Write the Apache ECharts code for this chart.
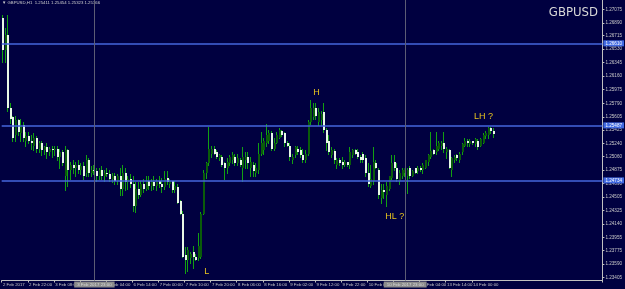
<!DOCTYPE html>
<html><head><meta charset="utf-8">
<script src="https://cdn.jsdelivr.net/npm/echarts@6/dist/echarts.min.js"></script>
<style>html,body{margin:0;padding:0;background:#000040}#c{width:625px;height:289px}</style>
</head><body><div id="c"></div>
<script>
// ---- data ----
const symbolTitle = "GBPUSD";
const headerText = "\u25BC GBPUSD,H1  1.25411 1.25454 1.25323 1.25366";
const timeTickLabels = ["2 Feb 2017","2 Feb 22:00","3 Feb 08:00","3 Feb 18:00","6 Feb 04:00","6 Feb 14:00","7 Feb 00:00","7 Feb 10:00","7 Feb 20:00","8 Feb 06:00","8 Feb 16:00","9 Feb 02:00","9 Feb 12:00","9 Feb 22:00","10 Feb 08:00","10 Feb 18:00","13 Feb 04:00","13 Feb 14:00","14 Feb 00:00"];
const priceTicks = [1.23405,1.23590,1.23775,1.23955,1.24140,1.24325,1.24505,1.24690,1.24875,1.25060,1.25240,1.25425,1.25605,1.25790,1.25975,1.26160,1.26345,1.26530,1.26715,1.26890,1.27075];
const opens = [1.2695,1.2652,1.2672,1.2572,1.2560,1.2535,1.2556,1.2538,1.2549,1.2528,1.2534,1.2528,1.2521,1.2531,1.2517,1.2524,1.2515,1.2519,1.2512,1.2516,
1.2515,1.2517,1.2506,1.2512,1.2480,1.2515,1.2487,1.2494,1.2490,1.2495,1.2487,1.2493,1.2484,1.2501,1.2484,1.2488,1.2486,1.2480,1.2487,1.2479,
1.2484,1.2482,1.2476,1.2480,1.2473,1.2479,1.2462,1.2484,1.2471,1.2476,1.2469,1.2439,1.2462,1.2454,1.2468,1.2462,1.2473,1.2466,1.2471,1.2466,
1.2472,1.2468,1.2465,1.2477,1.2468,1.2472,1.2460,1.2465,1.2445,1.2428,1.2371,1.2364,1.2367,1.2376,1.2369,1.2367,1.2368,1.2428,1.2484,1.2497,
1.2510,1.2517,1.2512,1.2504,1.2506,1.2497,1.2490,1.2497,1.2501,1.2505,1.2497,1.2501,1.2491,1.2501,1.2505,1.2490,1.2494,1.2484,1.2487,1.2510,
1.2515,1.2524,1.2528,1.2538,1.2517,1.2525,1.2532,1.2541,1.2538,1.2524,1.2520,1.2501,1.2508,1.2517,1.2515,1.2508,1.2501,1.2510,1.2553,1.2560,
1.2572,1.2553,1.2556,1.2567,1.2542,1.2527,1.2508,1.2513,1.2494,1.2502,1.2499,1.2494,1.2498,1.2494,1.2508,1.2515,1.2512,1.2506,1.2510,1.2504,
1.2483,1.2466,1.2473,1.2497,1.2487,1.2449,1.2460,1.2454,1.2462,1.2477,1.2498,1.2491,1.2473,1.2480,1.2483,1.2479,1.2490,1.2480,1.2490,1.2486,
1.2491,1.2487,1.2491,1.2498,1.2505,1.2515,1.2512,1.2517,1.2520,1.2525,1.2512,1.2515,1.2487,1.2501,1.2508,1.2501,1.2512,1.2521,1.2528,1.2523,
1.2527,1.2523,1.2527,1.2521,1.2525,1.2534,1.2536,1.2545,1.25411];
const highs = [1.2700,1.2682,1.2700,1.2579,1.2562,1.2562,1.2558,1.2558,1.2553,1.2539,1.2539,1.2535,1.2538,1.2534,1.2528,1.2528,1.2521,1.2524,1.2519,1.2520,
1.2521,1.2520,1.2517,1.2515,1.2521,1.2517,1.2498,1.2501,1.2498,1.2501,1.2497,1.2498,1.2508,1.2504,1.2493,1.2494,1.2490,1.2490,1.2493,1.2487,
1.2490,1.2487,1.2484,1.2484,1.2482,1.2490,1.2494,1.2490,1.2480,1.2482,1.2480,1.2471,1.2471,1.2473,1.2476,1.2479,1.2480,1.2476,1.2479,1.2476,
1.2479,1.2477,1.2486,1.2486,1.2475,1.2473,1.2473,1.2468,1.2446,1.2431,1.2382,1.2382,1.2375,1.2384,1.2372,1.2401,1.2430,1.2487,1.2498,1.2546,
1.2520,1.2520,1.2515,1.2510,1.2508,1.2498,1.2504,1.2508,1.2512,1.2509,1.2510,1.2504,1.2519,1.2512,1.2512,1.2505,1.2498,1.2497,1.2525,1.2539,
1.2532,1.2550,1.2542,1.2541,1.2531,1.2539,1.2545,1.2542,1.2539,1.2527,1.2524,1.2510,1.2521,1.2520,1.2519,1.2517,1.2515,1.2556,1.2583,1.2580,
1.2580,1.2572,1.2569,1.2579,1.2545,1.2535,1.2519,1.2517,1.2504,1.2504,1.2505,1.2501,1.2499,1.2519,1.2516,1.2516,1.2517,1.2508,1.2512,1.2508,
1.2497,1.2494,1.2519,1.2501,1.2490,1.2469,1.2469,1.2471,1.2480,1.2508,1.2508,1.2497,1.2487,1.2490,1.2491,1.2491,1.2493,1.2488,1.2491,1.2493,
1.2493,1.2497,1.2502,1.2510,1.2539,1.2516,1.2539,1.2527,1.2528,1.2539,1.2519,1.2516,1.2505,1.2508,1.2510,1.2512,1.2525,1.2531,1.2530,1.2530,
1.2528,1.2532,1.2530,1.2532,1.2538,1.2541,1.2546,1.2547,1.25454];
const lows = [1.2635,1.2635,1.2569,1.2552,1.2528,1.2528,1.2535,1.2528,1.2528,1.2521,1.2525,1.2517,1.2515,1.2512,1.2512,1.2508,1.2510,1.2504,1.2508,1.2506,
1.2508,1.2501,1.2490,1.2494,1.2460,1.2466,1.2476,1.2484,1.2480,1.2484,1.2482,1.2476,1.2479,1.2480,1.2479,1.2482,1.2473,1.2476,1.2476,1.2473,
1.2479,1.2473,1.2471,1.2469,1.2468,1.2453,1.2453,1.2460,1.2462,1.2465,1.2432,1.2430,1.2449,1.2452,1.2457,1.2460,1.2462,1.2460,1.2462,1.2460,
1.2465,1.2457,1.2462,1.2469,1.2465,1.2458,1.2458,1.2442,1.2427,1.2368,1.2346,1.2350,1.2360,1.2354,1.2364,1.2365,1.2367,1.2427,1.2477,1.2494,
1.2506,1.2509,1.2504,1.2501,1.2493,1.2476,1.2484,1.2494,1.2497,1.2495,1.2494,1.2493,1.2473,1.2491,1.2491,1.2480,1.2480,1.2480,1.2484,1.2508,
1.2510,1.2521,1.2524,1.2515,1.2515,1.2524,1.2531,1.2534,1.2521,1.2520,1.2501,1.2497,1.2505,1.2510,1.2505,1.2498,1.2499,1.2508,1.2550,1.2558,
1.2557,1.2549,1.2549,1.2539,1.2515,1.2510,1.2505,1.2497,1.2490,1.2495,1.2491,1.2493,1.2493,1.2491,1.2506,1.2509,1.2504,1.2499,1.2498,1.2480,
1.2466,1.2464,1.2469,1.2490,1.2449,1.2443,1.2449,1.2439,1.2460,1.2476,1.2487,1.2473,1.2469,1.2477,1.2480,1.2456,1.2477,1.2479,1.2483,1.2484,
1.2486,1.2484,1.2490,1.2495,1.2504,1.2509,1.2510,1.2515,1.2517,1.2512,1.2504,1.2490,1.2480,1.2499,1.2502,1.2499,1.2510,1.2520,1.2521,1.2521,
1.2523,1.2520,1.2517,1.2520,1.2524,1.2532,1.2532,1.2538,1.25323];
const closes = [1.2652,1.2672,1.2572,1.2558,1.2532,1.2556,1.2539,1.2549,1.2531,1.2534,1.2528,1.2524,1.2531,1.2517,1.2524,1.2515,1.2519,1.2512,1.2516,1.2515,
1.2517,1.2506,1.2512,1.2497,1.2515,1.2487,1.2494,1.2490,1.2495,1.2487,1.2493,1.2480,1.2501,1.2484,1.2488,1.2486,1.2480,1.2487,1.2479,1.2484,
1.2482,1.2476,1.2480,1.2473,1.2479,1.2462,1.2484,1.2471,1.2476,1.2469,1.2439,1.2462,1.2454,1.2468,1.2462,1.2473,1.2466,1.2471,1.2466,1.2472,
1.2468,1.2465,1.2476,1.2471,1.2472,1.2460,1.2466,1.2443,1.2428,1.2369,1.2364,1.2378,1.2372,1.2368,1.2365,1.2383,1.2428,1.2484,1.2497,1.2517,
1.2517,1.2510,1.2505,1.2508,1.2494,1.2490,1.2498,1.2505,1.2508,1.2497,1.2504,1.2495,1.2506,1.2506,1.2497,1.2498,1.2486,1.2491,1.2510,1.2525,
1.2528,1.2535,1.2538,1.2517,1.2525,1.2535,1.2542,1.2535,1.2524,1.2521,1.2505,1.2506,1.2519,1.2512,1.2508,1.2501,1.2510,1.2553,1.2572,1.2572,
1.2561,1.2567,1.2564,1.2542,1.2525,1.2512,1.2515,1.2501,1.2501,1.2497,1.2494,1.2499,1.2494,1.2512,1.2515,1.2510,1.2505,1.2501,1.2501,1.2483,
1.2468,1.2476,1.2498,1.2491,1.2453,1.2460,1.2457,1.2466,1.2479,1.2497,1.2491,1.2476,1.2484,1.2487,1.2490,1.2487,1.2480,1.2486,1.2484,1.2491,
1.2487,1.2495,1.2501,1.2508,1.2513,1.2510,1.2521,1.2525,1.2525,1.2517,1.2516,1.2491,1.2504,1.2506,1.2504,1.2510,1.2523,1.2528,1.2524,1.2527,
1.2524,1.2530,1.2519,1.2530,1.2535,1.2538,1.2545,1.2541,1.25366];
const totalSlots = 230;
const hLineValues = [1.26610, 1.25487, 1.24734];
const vLineIndex = [35, 154];
const vLineLabels = ["3 Feb 2017 23:00", "10 Feb 2017 23:00"];
const lastPrice = 1.25366;
const annoText = ["H", "L", "HL ?", "LH ?"];
const annoIndex = [120, 78, 150, 184];
const annoPrice = [1.25943, 1.23484, 1.24235, 1.25614];

// ---- build ----
const cats = [];
for (let i = 0; i < totalSlots; i++) cats.push(String(i));
const bars = opens.map((o, i) => [i, o, highs[i], lows[i], closes[i]]);
const shownTick = (idx) => idx % 10 === 0 && idx / 10 < timeTickLabels.length;

const WICK = '#12a012', BULL = '#0a5c0a', BEAR = '#e8f8e6';
function renderBar(params, api) {
  const i = api.value(0), o = api.value(1), h = api.value(2), l = api.value(3), c = api.value(4);
  const pO = api.coord([i, o]), pH = api.coord([i, h]), pL = api.coord([i, l]), pC = api.coord([i, c]);
  const r = Math.round(pO[0]);
  const t = Math.round(Math.min(pO[1], pC[1])), b = Math.round(Math.max(pO[1], pC[1]));
  return {
    type: 'group',
    children: [
      {type: 'line', shape: {x1: r - 0.5, y1: Math.round(pH[1]), x2: r - 0.5, y2: Math.round(pL[1]) + 1},
        style: {stroke: WICK, lineWidth: 1}},
      {type: 'rect', shape: {x: r - 1, y: t, width: 2, height: Math.max(1, b - t)},
        style: {fill: c >= o ? BULL : BEAR}}
    ]
  };
}

const chart = echarts.init(document.getElementById('c'), null, {renderer: 'canvas'});
const axisGrey = '#c0c0c0';
const FONT = 'Liberation Sans';
const markLineData = [];
hLineValues.forEach(v => markLineData.push({
  yAxis: v,
  lineStyle: {color: '#4466dd', width: 1.5, type: 'solid'},
  label: {show: true, position: 'end', distance: 1, formatter: v.toFixed(5),
    backgroundColor: '#4169e1', color: '#ffffff', fontSize: 4.6, padding: [1, 2, 0, 2], fontFamily: FONT}
}));
vLineIndex.forEach((v, k) => markLineData.push({
  xAxis: v,
  lineStyle: {color: '#5c5c74', width: 1, type: 'solid'},
  label: {show: true, position: 'start', distance: 1, formatter: vLineLabels[k],
    backgroundColor: '#8c8c8c', color: '#d8d8d8', fontSize: 4.4, padding: [1, 3, 1, 3], fontFamily: FONT}
}));
markLineData.push({
  yAxis: lastPrice,
  lineStyle: {opacity: 0},
  label: {show: true, position: 'end', distance: 1, formatter: lastPrice.toFixed(5),
    backgroundColor: '#c8c8c8', color: '#101010', fontSize: 4.6, padding: [1, 2, 0, 2], fontFamily: FONT}
});

chart.setOption({
  animation: false,
  backgroundColor: '#000040',
  grid: {left: 0, top: 0, right: 20.5, bottom: 8.5, containLabel: false},
  xAxis: {
    type: 'category', data: cats, boundaryGap: true,
    axisLine: {show: true, lineStyle: {color: axisGrey, width: 1}},
    axisTick: {show: true, length: 2, interval: (i) => shownTick(i), lineStyle: {color: axisGrey}},
    axisLabel: {show: true, interval: (i) => shownTick(i), align: 'left', margin: 2,
      color: '#c8c8c8', fontSize: 4.3, fontFamily: FONT,
      formatter: (v, i) => shownTick(i) ? timeTickLabels[i / 10] : ''},
    splitLine: {show: false}
  },
  yAxis: {
    type: 'value', position: 'right', scale: true, min: 1.23364, max: 1.27203,
    axisLine: {show: true, lineStyle: {color: axisGrey, width: 1}},
    axisTick: {show: true, length: 2, customValues: priceTicks, lineStyle: {color: axisGrey}},
    axisLabel: {show: true, customValues: priceTicks, margin: 3, color: '#c8c8c8', fontSize: 4.6,
      fontFamily: FONT, formatter: (v) => v.toFixed(5)},
    splitLine: {show: false}
  },
  series: [
    {
      type: 'custom', renderItem: renderBar, data: bars, clip: true,
      encode: {x: 0, y: [1, 2, 3, 4]}, silent: true
    },
    {
      type: 'line', data: [], silent: true,
      markLine: {symbol: 'none', precision: 5, silent: true, animation: false, data: markLineData},
      markPoint: {
        symbol: 'circle', symbolSize: 0, silent: true, animation: false,
        data: annoText.map((t, k) => ({
          coord: [annoIndex[k], annoPrice[k]],
          label: {show: true, position: 'inside', formatter: t, color: '#e8c41e', fontSize: 9, fontFamily: FONT}
        }))
      }
    }
  ],
  graphic: [
    {type: 'text', left: 2, top: 1, style: {text: headerText, fill: '#d0d0d0', fontSize: 4.3, fontFamily: FONT}},
    {type: 'text', right: 27, top: 6, style: {text: symbolTitle, fill: '#d8d8d8', fontSize: 13, fontFamily: 'Liberation Sans Narrow, DejaVu Sans Condensed, sans-serif'}}
  ]
});
</script></body></html>
